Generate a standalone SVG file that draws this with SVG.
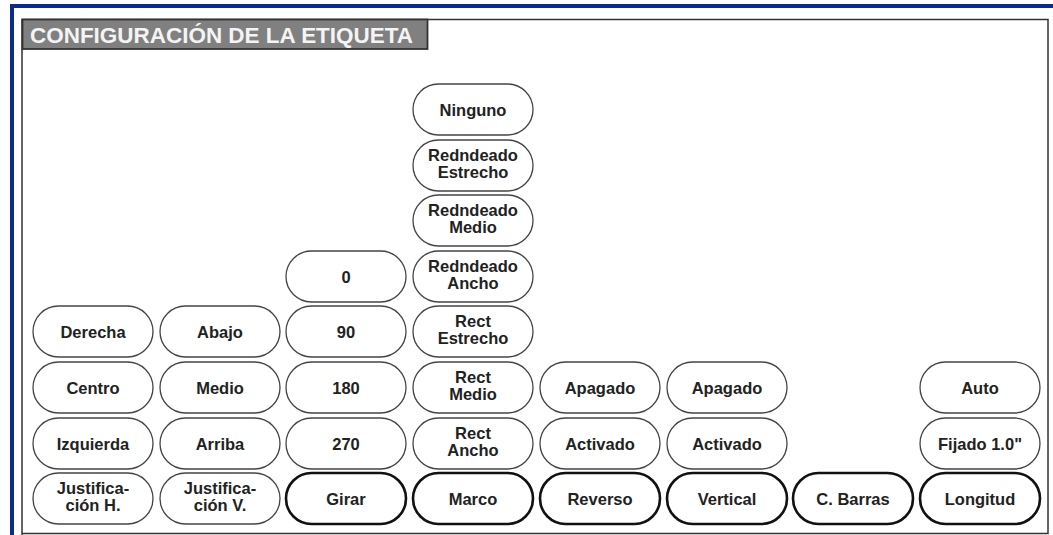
<svg xmlns="http://www.w3.org/2000/svg" width="1053" height="535" viewBox="0 0 1053 535">
<style>
.p{fill:#fff;stroke:#444;stroke-width:1.3}
.b{fill:#fff;stroke:#111;stroke-width:2.6}
.t{font-family:"Liberation Sans",Arial,sans-serif;font-weight:bold;font-size:16.5px;fill:#222;text-anchor:middle}
.title{font-family:"Liberation Sans",Arial,sans-serif;font-weight:bold;font-size:21.5px;fill:#f4f4f4}
</style>
<defs>
<rect id="pill" x="0" y="0" width="120" height="51" rx="25.5" ry="25.5"/>
</defs>
<rect width="1053" height="535" fill="#fff"/>
<g id="frame">
<rect x="10" y="4" width="1043" height="4" fill="#0d2b8c"/>
<rect x="10" y="4" width="4" height="531" fill="#0d2b8c"/>
<polyline points="22,535 22,19.5 1048,19.5 1048,533.5 22,533.5" fill="none" stroke="#333" stroke-width="1.5"/>
</g>
<g id="title">
<rect x="22.5" y="19.5" width="405" height="29.5" fill="#808080" stroke="#333" stroke-width="1.8"/>
<text class="title" x="30" y="42.5" textLength="383" lengthAdjust="spacingAndGlyphs">CONFIGURACIÓN DE LA ETIQUETA</text>
</g>
<g id="connectors"/>
<g id="n-derecha" transform="translate(33,306)"><use href="#pill" class="p"/><text class="t" x="60" y="31.5">Derecha</text></g>
<g id="n-centro" transform="translate(33,362)"><use href="#pill" class="p"/><text class="t" x="60" y="31.5">Centro</text></g>
<g id="n-izquierda" transform="translate(33,418)"><use href="#pill" class="p"/><text class="t" x="60" y="31.5">Izquierda</text></g>
<g id="n-justh" transform="translate(33,473)"><use href="#pill" class="p"/><text class="t" x="60" y="21">Justifica-</text><text class="t" x="60" y="38">ción H.</text></g>
<g id="n-abajo" transform="translate(160,306)"><use href="#pill" class="p"/><text class="t" x="60" y="31.5">Abajo</text></g>
<g id="n-medio" transform="translate(160,362)"><use href="#pill" class="p"/><text class="t" x="60" y="31.5">Medio</text></g>
<g id="n-arriba" transform="translate(160,418)"><use href="#pill" class="p"/><text class="t" x="60" y="31.5">Arriba</text></g>
<g id="n-justv" transform="translate(160,473)"><use href="#pill" class="p"/><text class="t" x="60" y="21">Justifica-</text><text class="t" x="60" y="38">ción V.</text></g>
<g id="n-0" transform="translate(286,251)"><use href="#pill" class="p"/><text class="t" x="60" y="31.5">0</text></g>
<g id="n-90" transform="translate(286,306)"><use href="#pill" class="p"/><text class="t" x="60" y="31.5">90</text></g>
<g id="n-180" transform="translate(286,362)"><use href="#pill" class="p"/><text class="t" x="60" y="31.5">180</text></g>
<g id="n-270" transform="translate(286,418)"><use href="#pill" class="p"/><text class="t" x="60" y="31.5">270</text></g>
<g id="n-girar" transform="translate(286,473)"><use href="#pill" class="b"/><text class="t" x="60" y="31.5">Girar</text></g>
<g id="n-ninguno" transform="translate(413,84)"><use href="#pill" class="p"/><text class="t" x="60" y="31.5">Ninguno</text></g>
<g id="n-red-estrecho" transform="translate(413,140)"><use href="#pill" class="p"/><text class="t" x="60" y="21">Redndeado</text><text class="t" x="60" y="38">Estrecho</text></g>
<g id="n-red-medio" transform="translate(413,195)"><use href="#pill" class="p"/><text class="t" x="60" y="21">Redndeado</text><text class="t" x="60" y="38">Medio</text></g>
<g id="n-red-ancho" transform="translate(413,251)"><use href="#pill" class="p"/><text class="t" x="60" y="21">Redndeado</text><text class="t" x="60" y="38">Ancho</text></g>
<g id="n-rect-estrecho" transform="translate(413,306)"><use href="#pill" class="p"/><text class="t" x="60" y="21">Rect</text><text class="t" x="60" y="38">Estrecho</text></g>
<g id="n-rect-medio" transform="translate(413,362)"><use href="#pill" class="p"/><text class="t" x="60" y="21">Rect</text><text class="t" x="60" y="38">Medio</text></g>
<g id="n-rect-ancho" transform="translate(413,418)"><use href="#pill" class="p"/><text class="t" x="60" y="21">Rect</text><text class="t" x="60" y="38">Ancho</text></g>
<g id="n-marco" transform="translate(413,473)"><use href="#pill" class="b"/><text class="t" x="60" y="31.5">Marco</text></g>
<g id="n-apagado1" transform="translate(540,362)"><use href="#pill" class="p"/><text class="t" x="60" y="31.5">Apagado</text></g>
<g id="n-activado1" transform="translate(540,418)"><use href="#pill" class="p"/><text class="t" x="60" y="31.5">Activado</text></g>
<g id="n-reverso" transform="translate(540,473)"><use href="#pill" class="b"/><text class="t" x="60" y="31.5">Reverso</text></g>
<g id="n-apagado2" transform="translate(667,362)"><use href="#pill" class="p"/><text class="t" x="60" y="31.5">Apagado</text></g>
<g id="n-activado2" transform="translate(667,418)"><use href="#pill" class="p"/><text class="t" x="60" y="31.5">Activado</text></g>
<g id="n-vertical" transform="translate(667,473)"><use href="#pill" class="b"/><text class="t" x="60" y="31.5">Vertical</text></g>
<g id="n-cbarras" transform="translate(793,473)"><use href="#pill" class="b"/><text class="t" x="60" y="31.5">C. Barras</text></g>
<g id="n-auto" transform="translate(920,362)"><use href="#pill" class="p"/><text class="t" x="60" y="31.5">Auto</text></g>
<g id="n-fijado" transform="translate(920,418)"><use href="#pill" class="p"/><text class="t" x="60" y="31.5">Fijado 1.0"</text></g>
<g id="n-longitud" transform="translate(920,473)"><use href="#pill" class="b"/><text class="t" x="60" y="31.5">Longitud</text></g>
</svg>
